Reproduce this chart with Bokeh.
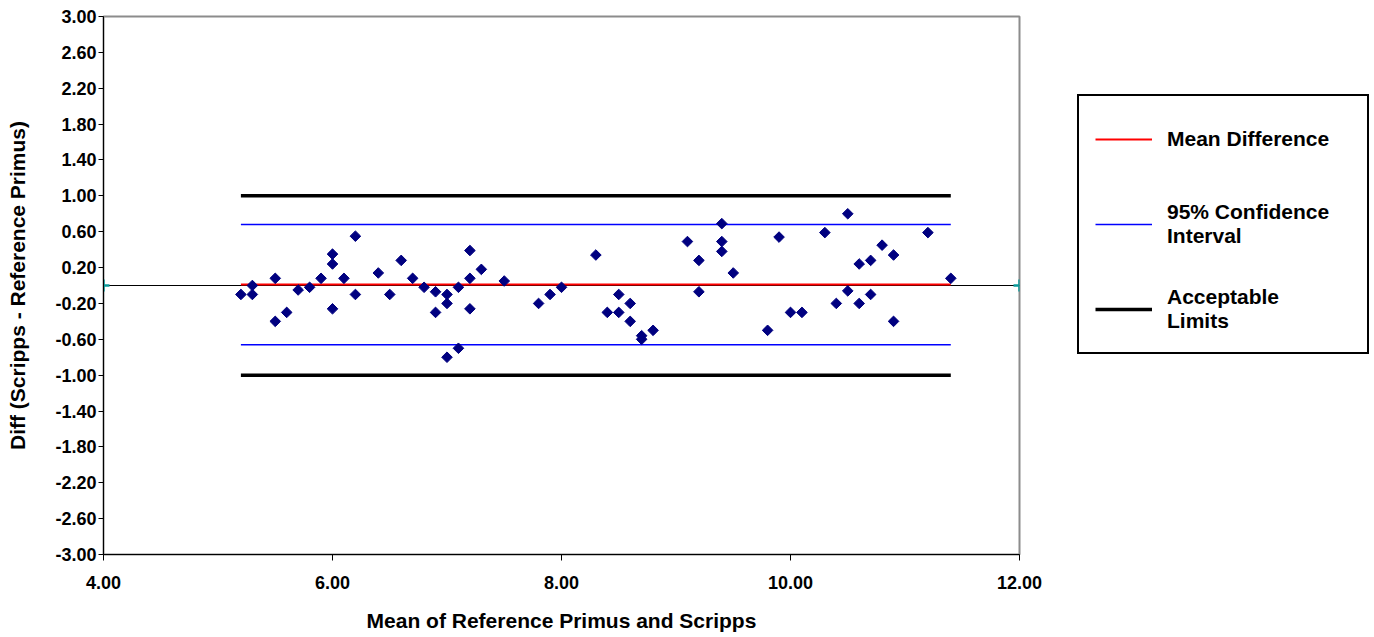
import math
from bokeh.plotting import figure
from bokeh.models import Range1d, FixedTicker, NumeralTickFormatter, Legend, LegendItem
from bokeh.embed import file_html
from bokeh.resources import INLINE

# ---- data ----
mean_x = [5.2, 5.3, 5.3, 5.5, 5.5, 5.6, 5.7, 5.8, 5.9, 6.0,
          6.0, 6.0, 6.1, 6.2, 6.2, 6.4, 6.5, 6.6, 6.7, 6.8,
          6.9, 6.9, 7.0, 7.0, 7.0, 7.1, 7.1, 7.2, 7.2, 7.2,
          7.3, 7.5, 7.8, 7.9, 8.0, 8.3, 8.4, 8.5, 8.5, 8.6,
          8.6, 8.7, 8.7, 8.8, 9.1, 9.2, 9.2, 9.4, 9.4, 9.4,
          9.5, 9.8, 9.9, 10.0, 10.1, 10.3, 10.4, 10.5, 10.5, 10.6,
          10.6, 10.7, 10.7, 10.8, 10.9, 10.9, 11.2, 11.4]
diff_y = [-0.10, 0.00, -0.10, 0.08, -0.40, -0.30, -0.05, -0.02, 0.08, 0.35,
          0.24, -0.26, 0.08, 0.55, -0.10, 0.14, -0.10, 0.28, 0.08, -0.02,
          -0.07, -0.30, -0.10, -0.20, -0.80, -0.02, -0.70, 0.39, 0.08, -0.26,
          0.18, 0.05, -0.20, -0.10, -0.02, 0.34, -0.30, -0.10, -0.30, -0.20,
          -0.40, -0.56, -0.60, -0.50, 0.49, 0.28, -0.07, 0.69, 0.49, 0.38,
          0.14, -0.50, 0.54, -0.30, -0.30, 0.59, -0.20, 0.80, -0.06, 0.24,
          -0.20, 0.28, -0.10, 0.45, 0.34, -0.40, 0.59, 0.08]

mean_diff = 0.01
ci_upper = 0.68
ci_lower = -0.66
limit_upper = 1.00
limit_lower = -1.00
zero_x = [4.0, 12.0]
zero_y = [0.0, 0.0]

x_ticks = [4.0, 6.0, 8.0, 10.0, 12.0]
y_ticks = [-3.0, -2.6, -2.2, -1.8, -1.4, -1.0, -0.6, -0.2,
           0.2, 0.6, 1.0, 1.4, 1.8, 2.2, 2.6, 3.0]

x_title = "Mean of Reference Primus and Scripps"
y_title = "Diff (Scripps - Reference Primus)"
legend_labels = ["Mean Difference", "95% Confidence\nInterval", "Acceptable\nLimits"]

FONT = "Liberation Sans"

p = figure(frame_width=916, frame_height=538,
           min_border_left=103, min_border_right=349,
           min_border_top=16, min_border_bottom=70,
           x_range=Range1d(4, 12), y_range=Range1d(-3, 3),
           output_backend="svg", toolbar_location=None,
           background_fill_color="white", border_fill_color="white")

p.xgrid.visible = False
p.ygrid.visible = False
p.outline_line_color = "#8c8c8c"
p.outline_line_width = 2

x0, x1 = min(mean_x), max(mean_x)

p.line(zero_x, zero_y, line_color="black", line_width=1)
p.scatter(zero_x, zero_y, marker="cross", size=12, line_color="#0a9a9a", line_width=2.5)

r_mean = p.line([x0, x1], [mean_diff, mean_diff], line_color="#ff0000", line_width=2)
r_ci_u = p.line([x0, x1], [ci_upper, ci_upper], line_color="#0000ff", line_width=1.5)
p.line([x0, x1], [ci_lower, ci_lower], line_color="#0000ff", line_width=1.5)
r_lim_u = p.line([x0, x1], [limit_upper, limit_upper], line_color="black", line_width=3.5)
p.line([x0, x1], [limit_lower, limit_lower], line_color="black", line_width=3.5)

p.scatter(mean_x, diff_y, marker="square", angle=math.pi / 4, size=7.5,
          fill_color="#000080", line_color="#000080", line_width=1)

for ax in (p.xaxis[0], p.yaxis[0]):
    ax.axis_line_color = "black"
    ax.axis_line_width = 1
    ax.major_tick_line_color = "black"
    ax.major_tick_in = 0
    ax.minor_tick_line_color = None
    ax.major_label_text_font = FONT
    ax.major_label_text_font_style = "bold"
    ax.major_label_text_font_size = "18px"
    ax.major_label_text_color = "black"
    ax.axis_label_text_font = FONT
    ax.axis_label_text_font_style = "bold"
    ax.axis_label_text_font_size = "21px"
    ax.axis_label_text_color = "black"
    ax.formatter = NumeralTickFormatter(format="0.00")

p.xaxis[0].ticker = FixedTicker(ticks=x_ticks)
p.yaxis[0].ticker = FixedTicker(ticks=y_ticks)
p.xaxis[0].major_tick_out = 6
p.yaxis[0].major_tick_out = 5
p.xaxis[0].major_label_standoff = 15
p.yaxis[0].major_label_standoff = 2
p.xaxis[0].axis_label = x_title
p.yaxis[0].axis_label = y_title
p.xaxis[0].axis_label_standoff = 17
p.yaxis[0].axis_label_standoff = 23

legend = Legend(
    items=[LegendItem(label=legend_labels[0], renderers=[r_mean]),
           LegendItem(label=legend_labels[1], renderers=[r_ci_u]),
           LegendItem(label=legend_labels[2], renderers=[r_lim_u])],
    location=(58, 200), orientation="vertical",
    border_line_color="black", border_line_width=2, border_line_alpha=1.0,
    background_fill_color="white", background_fill_alpha=1.0,
    padding=16, spacing=31, margin=0,
    glyph_width=57, glyph_height=54, label_standoff=15, label_width=184,
    label_text_font=FONT, label_text_font_style="bold",
    label_text_font_size="21px", label_text_line_height=1.25,
    label_text_color="black")
p.add_layout(legend, "right")

open("out.html", "w").write(file_html(p, INLINE))
